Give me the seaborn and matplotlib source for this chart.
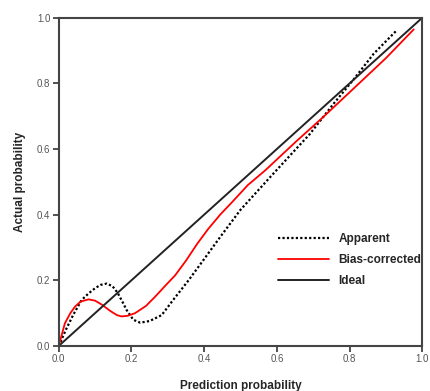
import numpy as np
import pandas as pd
import matplotlib
matplotlib.use("Agg")
import matplotlib.pyplot as plt
import seaborn as sns

# calibration curves
apparent_x = [0, 0.02, 0.04, 0.063, 0.082, 0.10, 0.115, 0.132, 0.148, 0.162, 0.175, 0.187,
              0.205, 0.224, 0.25, 0.283, 0.318, 0.357, 0.40, 0.444, 0.50, 0.582, 0.64,
              0.69, 0.756, 0.811, 0.866, 0.93]
apparent_y = [0, 0.05, 0.095, 0.14, 0.16, 0.176, 0.186, 0.19, 0.182, 0.162, 0.135, 0.109,
              0.08, 0.071, 0.076, 0.094, 0.145, 0.2, 0.265, 0.332, 0.415, 0.515, 0.585,
              0.645, 0.738, 0.812, 0.89, 0.962]

corrected_x = [0, 0.017, 0.032, 0.045, 0.06, 0.082, 0.10, 0.12, 0.14, 0.16, 0.173, 0.19,
               0.21, 0.24, 0.265, 0.29, 0.32, 0.35, 0.38, 0.41, 0.444, 0.48, 0.52, 0.568,
               0.65, 0.73, 0.829, 0.90, 0.976]
corrected_y = [0, 0.069, 0.1, 0.12, 0.135, 0.142, 0.138, 0.125, 0.108, 0.094, 0.09, 0.092,
               0.1, 0.122, 0.15, 0.18, 0.215, 0.26, 0.31, 0.355, 0.40, 0.442, 0.49, 0.535,
               0.62, 0.70, 0.803, 0.877, 0.964]

ideal_x = [0, 1]
ideal_y = [0, 1]

sns.set_theme(style="ticks")
plt.rcParams["font.family"] = ["Liberation Sans", "DejaVu Sans"]

fig = plt.figure(figsize=(4.3, 3.91), dpi=100)
ax = fig.add_axes([0.1365, 0.1151, 0.846, 0.84])

sns.lineplot(x=apparent_x, y=apparent_y, ax=ax, color="black", lw=1.6,
             linestyle=(0, (1, 1)), label="Apparent", sort=False)
sns.lineplot(x=corrected_x, y=corrected_y, ax=ax, color="#ff0000", lw=1.3,
             label="Bias-corrected", sort=False)
sns.lineplot(x=ideal_x, y=ideal_y, ax=ax, color="#222222", lw=1.4,
             label="Ideal", sort=False)

ax.set_xlim(0, 1)
ax.set_ylim(0, 1)
ticks = [0.0, 0.2, 0.4, 0.6, 0.8, 1.0]
ax.set_xticks(ticks)
ax.set_yticks(ticks)
ax.set_xticklabels([f"{t:.1f}" for t in ticks])
ax.set_yticklabels([f"{t:.1f}" for t in ticks])
ax.tick_params(axis="both", direction="out", length=4, width=1.2, colors="#333333",
               labelsize=7, labelcolor="#555555", pad=2)

for side in ["left", "bottom", "top", "right"]:
    ax.spines[side].set_visible(True)
    ax.spines[side].set_color("#444444")
    ax.spines[side].set_linewidth(1.5)

ax.set_xlabel("Prediction probability", fontsize=8.5, fontweight="bold", labelpad=11)
ax.set_ylabel("Actual probability", fontsize=8.5, fontweight="bold", labelpad=8)

ax.legend(loc="center left", bbox_to_anchor=(0.574, 0.262), frameon=False,
          handlelength=4.3, prop={"weight": "bold", "size": 8.5},
          labelspacing=0.75, handletextpad=0.8)

fig.savefig("out.png", dpi=100)
